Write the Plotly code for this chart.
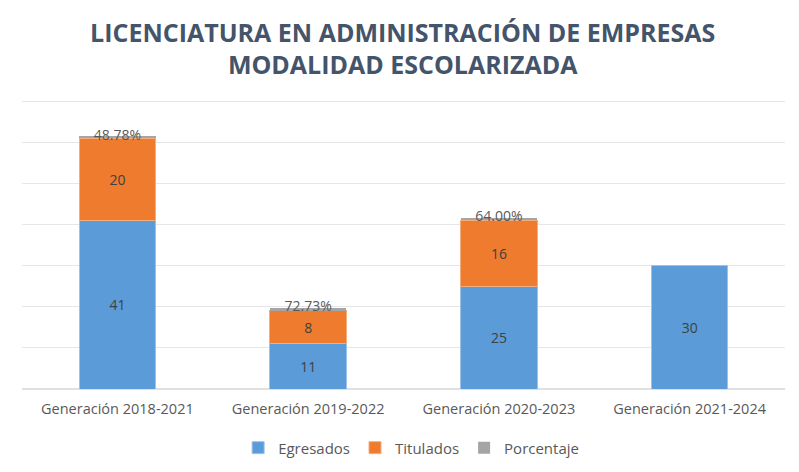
import plotly.graph_objects as go

categories = ["Generación 2018-2021", "Generación 2019-2022", "Generación 2020-2023", "Generación 2021-2024"]
egresados = [41, 11, 25, 30]
titulados = [20, 8, 16, None]
porcentaje = [0.4878, 0.7273, 0.64, None]
porcentaje_labels = ["48.78%", "72.73%", "64.00%", ""]

FONT = "Open Sans"
TXT = "#404040"

fig = go.Figure()
fig.add_trace(go.Bar(
    x=categories, y=egresados, name="Egresados",
    marker=dict(color="#5B9BD8", line=dict(width=1, color="#9CC2E8")),
    text=egresados, textposition="inside", insidetextanchor="middle",
    textfont=dict(color=TXT, size=14, family=FONT),
))
fig.add_trace(go.Bar(
    x=categories, y=titulados, name="Titulados",
    marker=dict(color="#EE7B2E", line=dict(width=1, color="#F4AE7E")),
    text=[("" if v is None else v) for v in titulados], textposition="inside", insidetextanchor="middle",
    textfont=dict(color=TXT, size=14, family=FONT),
))
fig.add_trace(go.Bar(
    x=categories, y=porcentaje, name="Porcentaje",
    marker=dict(color="#A5A5A5", line=dict(width=0)),
    textposition="none",
))
# percentage labels sitting on top of each stack
tops = [e + (t or 0) + (p or 0) for e, t, p in zip(egresados, titulados, porcentaje)]
fig.add_trace(go.Scatter(
    x=categories, y=tops, mode="text", text=porcentaje_labels,
    textposition="middle center", showlegend=False, hoverinfo="skip",
    textfont=dict(color="#595959", size=14, family=FONT),
))

fig.update_layout(
    barmode="stack",
    bargap=0.6,
    width=799, height=472,
    paper_bgcolor="white", plot_bgcolor="white",
    margin=dict(l=14, r=22, t=85, b=91),
    title=dict(
        text="<b>LICENCIATURA EN ADMINISTRACIÓN DE EMPRESAS<br>MODALIDAD ESCOLARIZADA</b>",
        x=0.494, xanchor="center", y=0.928, yanchor="middle",
        font=dict(family=FONT, size=25, color="#44546A"),
    ),
    font=dict(family=FONT, color="#595959"),
    legend=dict(
        orientation="h", x=0.51, xanchor="center", y=-0.199, yanchor="middle",
        font=dict(size=15, color="#595959", family=FONT),
        itemwidth=30, traceorder="normal",
    ),
    xaxis=dict(
        showgrid=False, showline=False, ticks="",
        tickfont=dict(size=14.5, color="#595959", family=FONT),
        ticklabelstandoff=9,
    ),
    yaxis=dict(
        range=[0, 72], tickvals=[10, 20, 30, 40, 50, 60, 70], showticklabels=False,
        gridcolor="#E6E6E6", gridwidth=1, zeroline=True, zerolinecolor="#E0E0E0",
        showline=False, ticks="",
    ),
    showlegend=True,
)

fig.write_html("out.html")
